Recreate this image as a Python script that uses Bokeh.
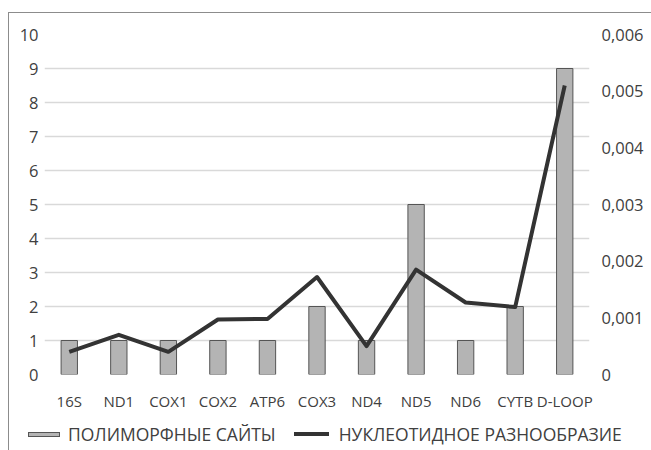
from bokeh.plotting import figure
from bokeh.layouts import column
from bokeh.models import (Range1d, LinearAxis, FixedTicker, CustomJSTickFormatter,
                          ColumnDataSource, Div)
from bokeh.embed import file_html
from bokeh.resources import INLINE

genes = ["16S", "ND1", "COX1", "COX2", "ATP6", "COX3", "ND4", "ND5", "ND6", "CYTB", "D-LOOP"]
poly_sites = [1, 1, 1, 1, 1, 2, 1, 5, 1, 2, 9]
nuc_div = [0.00040, 0.00070, 0.00040, 0.00097, 0.00098, 0.00172, 0.00050, 0.00185, 0.00127, 0.00119, 0.00510]
left_ticks = [0, 1, 2, 3, 4, 5, 6, 7, 8, 9, 10]
right_ticks = [0, 0.001, 0.002, 0.003, 0.004, 0.005, 0.006]

bar_label = "ПОЛИМОРФНЫЕ САЙТЫ"
line_label = "НУКЛЕОТИДНОЕ РАЗНООБРАЗИЕ"

FONT = "Open Sans"
TXT = "#404040"
BAR_FILL = "#b4b4b4"
BAR_LINE = "#555555"
LINE_COL = "#333333"

src = ColumnDataSource(dict(g=genes, p=poly_sites, d=nuc_div))

p = figure(x_range=genes, y_range=Range1d(0, 10), width=642, height=408,
           output_backend="svg", toolbar_location=None,
           min_border_left=35, min_border_right=62, min_border_top=21, min_border_bottom=47)
p.outline_line_color = None
p.x_range.range_padding = 0.0
p.extra_y_ranges = {"div": Range1d(0, 0.006)}

p.vbar(x="g", top="p", width=0.33, source=src, fill_color=BAR_FILL,
       line_color=BAR_LINE, line_width=1)
p.line(x="g", y="d", source=src, y_range_name="div", line_color=LINE_COL,
       line_width=4, line_join="round")

p.yaxis.ticker = FixedTicker(ticks=left_ticks)
ax_r = LinearAxis(y_range_name="div", ticker=FixedTicker(ticks=right_ticks),
                  formatter=CustomJSTickFormatter(code="return tick == 0 ? '0' : tick.toFixed(3).replace('.', ',');"))
p.add_layout(ax_r, "right")

for ax in [p.yaxis[0], ax_r, p.xaxis[0]]:
    ax.axis_line_color = None
    ax.major_tick_line_color = None
    ax.minor_tick_line_color = None
    ax.major_tick_out = 0
    ax.major_tick_in = 0
    ax.major_label_text_font = FONT
    ax.major_label_text_font_size = "16.5px"
    ax.major_label_text_color = TXT
p.xaxis[0].major_label_text_font_size = "15px"
p.yaxis[0].major_label_standoff = 6
ax_r.major_label_standoff = 12
p.xaxis[0].major_label_standoff = 16

p.xgrid.grid_line_color = None
p.ygrid.grid_line_color = "#d9d9d9"
p.ygrid.grid_line_width = 1.3
p.ygrid.ticker = FixedTicker(ticks=left_ticks)

# legend strip (HTML)
legend_html = (
    f'<div style="display:flex;align-items:center;height:26px;white-space:nowrap;'
    f'font-family:\'{FONT}\';font-size:17.5px;color:{TXT};">'
    f'<span style="display:inline-block;width:32px;height:5px;background:{BAR_FILL};'
    f'border:1px solid {BAR_LINE};margin-left:19px;margin-right:8px;"></span>'
    f'<span>{bar_label}</span>'
    f'<span style="display:inline-block;width:35px;height:4px;background:{LINE_COL};'
    f'margin-left:18px;margin-right:10px;"></span>'
    f'<span>{line_label}</span></div>'
)
lg = Div(text=legend_html, width=642, height=30, margin=0)

layout = column(p, lg, spacing=0)
layout.margin = (12, 0, 0, 8)
layout.styles = {"border-left": "1px solid #8c8c8c", "border-top": "1px solid #8c8c8c"}

open("out.html", "w").write(file_html(layout, INLINE))
